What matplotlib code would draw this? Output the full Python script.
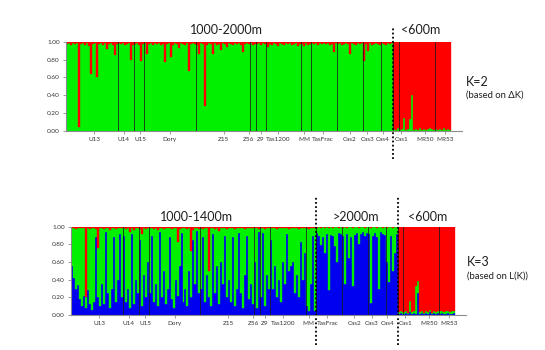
import numpy as np
import matplotlib
matplotlib.use('Agg')
import matplotlib.pyplot as plt

plt.rcParams['font.family'] = ['Lato', 'DejaVu Sans']

# populations in plotting order, and how many individuals each holds
pops = ['U13', 'U14', 'U15', 'Dory', 'Z15', 'Z56', 'Z9', 'Tas1200', 'MM',
        'TasFrac', 'Cas2', 'Cas3', 'Cas4', 'Cas1', 'MR50', 'MR53']
pop_sizes = [26, 8, 5, 26, 27, 3, 5, 18, 5, 13, 13, 9, 6, 3, 18, 8]
# where each population label sits (in individuals along the x axis)
label_pos = [14.2, 29, 37.2, 52, 79, 91.5, 97.5, 106.5, 119.3, 128.7,
             142.3, 151, 158.8, 168, 180, 190]

# K=2 : green membership (%) per individual, red is the rest
k2_green = [
    98, 99, 97, 99, 98, 99, 4, 98, 99, 97, 99, 95, 64, 98, 99, 60, 98, 99, 97, 99, 92, 98, 99, 97, 85, 98,
    99, 98, 99, 97, 98, 99, 80, 97,
    98, 99, 97, 78, 98,
    99, 86, 98, 99, 97, 99, 98, 99, 97, 98, 77, 98, 99, 83, 97, 99, 98, 93, 99, 98, 97, 99, 67, 98, 99, 98,
    97, 86, 99, 98, 28, 97, 99, 98, 86, 99, 97, 98, 91, 99, 98, 94, 99, 98, 97, 99, 98, 99, 97, 89, 98, 99, 98,
    99, 97, 98,
    98, 99, 97, 99, 98,
    99, 94, 98, 97, 99, 98, 96, 99, 98, 97, 99, 98, 99, 97, 98, 99, 96, 98,
    98, 96, 99, 97, 98,
    99, 98, 99, 97, 99, 98, 99, 98, 99, 97, 98, 89, 99,
    98, 99, 97, 98, 99, 98, 87, 99, 98, 97, 99, 98, 99,
    78, 98, 90, 99, 97, 98, 99, 98, 97,
    99, 98, 97, 99, 98, 99,
    2, 1, 3,
    1, 2, 14, 1, 2, 13, 40, 1, 2, 1, 3, 1, 2, 1, 2, 3, 2, 1,
    2, 1, 2, 1, 3, 1, 2, 1,
]

# K=3 : blue and red membership (%) per individual, green is the rest
k3_blue = [
    55, 42, 30, 34, 18, 10, 22, 8, 28, 12, 6, 15, 88, 20, 10, 35, 12, 94, 25, 8, 30, 88, 15, 40, 92, 20,
    90, 15, 30, 8, 92, 12, 40, 25,
    85, 10, 45, 20, 60,
    25, 90, 15, 35, 10, 94, 20, 50, 12, 30, 88, 18, 8, 40, 22, 55, 93, 15, 30, 10, 50, 20, 85, 35, 95, 25,
    30, 88, 15, 45, 20, 10, 92, 25, 55, 12, 60, 35, 90, 20, 40, 15, 88, 10, 30, 93, 25, 8, 45, 90, 18, 35, 12,
    60, 8, 94,
    20, 93, 10, 45, 30,
    85, 30, 55, 20, 40, 15, 60, 35, 92, 50, 56, 60, 25, 45, 20, 83, 40, 70,
    10, 5, 35, 90, 4,
    93, 90, 79, 88, 70, 92, 28, 91, 89, 78, 60, 93, 92,
    90, 35, 92, 64, 88, 33, 91, 93, 80, 92, 94, 90, 93,
    92, 14, 90, 93, 88, 30, 94, 92, 91,
    60, 37, 90, 50, 70, 92,
    1, 2, 1,
    1, 2, 1, 3, 1, 2, 1, 25, 1, 2, 1, 2, 1, 3, 1, 2, 1, 2,
    1, 2, 1, 1, 2, 1, 1, 2,
]
k3_red = [
    2, 1, 3, 2, 1, 2, 1, 80, 2, 3, 1, 2, 3, 24, 2, 1, 3, 2, 1, 4, 2, 1, 3, 2, 1, 2,
    2, 3, 1, 6, 2, 4, 2, 1,
    3, 8, 2, 3, 2,
    2, 1, 3, 2, 4, 1, 2, 3, 1, 2, 2, 3, 1, 2, 17, 3, 1, 2, 2, 3, 1, 27, 4, 2, 1, 3,
    2, 3, 1, 2, 50, 2, 1, 3, 2, 5, 1, 2, 1, 3, 2, 1, 2, 3, 1, 2, 2, 1, 3, 2, 1, 2, 1,
    2, 1, 3,
    1, 2, 3, 1, 2,
    2, 1, 2, 3, 1, 2, 1, 2, 1, 3, 2, 1, 2, 1, 3, 2, 1, 2,
    2, 3, 1, 2, 1,
    1, 0, 1, 0, 1, 0, 1, 0, 1, 0, 0, 1, 0,
    1, 0, 1, 0, 0, 1, 0, 0, 1, 0, 0, 1, 0,
    0, 1, 0, 0, 1, 0, 0, 1, 0,
    1, 0, 0, 1, 0, 0,
    97, 96, 97,
    97, 96, 98, 84, 97, 95, 67, 62, 97, 96, 98, 95, 97, 94, 98, 96, 97, 95,
    96, 95, 97, 96, 95, 97, 96, 95,
]

GREEN = '#00f000'
RED = '#ff0000'
BLUE = '#0000f0'
AXCOL = '#8c8c8c'
TXT = '#1e1e1e'

n = len(k2_green)
x = np.arange(n) + 0.5
bounds = np.cumsum(pop_sizes)


def style_axis(ax):
    ax.set_xlim(0, n + 5.3)
    ax.set_ylim(0, 1)
    for s in ['top', 'right']:
        ax.spines[s].set_visible(False)
    for s in ['left', 'bottom']:
        ax.spines[s].set_color(AXCOL)
        ax.spines[s].set_linewidth(0.8)
    ax.set_yticks([0, 0.2, 0.4, 0.6, 0.8, 1.0])
    ax.set_yticklabels(['0.00', '0.20', '0.40', '0.60', '0.80', '1.00'])
    ax.set_xticks(label_pos)
    ax.set_xticklabels(pops)
    ax.tick_params(axis='both', colors=AXCOL, labelcolor='#333333',
                   labelsize=4.6, length=2.5, width=0.6, pad=2)
    # population separators
    for b in bounds[:-1]:
        ax.plot([b, b], [0, 1], color='#1a1a1a', lw=0.7, alpha=0.8)


fig = plt.figure(figsize=(5.45, 3.5), dpi=100)

# ---- K=2 panel
ax1 = fig.add_axes([0.1211, 0.6271, 0.7259, 0.2529])
g2 = np.array(k2_green) / 100.0
ax1.bar(x, g2, width=1.0, color=GREEN, lw=0.25, edgecolor=GREEN)
ax1.bar(x, 1 - g2, bottom=g2, width=1.0, color=RED, lw=0.25, edgecolor=RED)
style_axis(ax1)
cut = bounds[pops.index('Cas4')]
ax1.axvline(cut, ymin=-0.32, ymax=1.16, color='k', lw=1.3,
            linestyle=(0, (1, 1.3)), clip_on=False)

fig.text(226 / 545, 1 - 29.5 / 350, '1000-2000m', fontsize=9,
         ha='center', va='center', color=TXT)
fig.text(420.6 / 545, 1 - 29.5 / 350, '<600m', fontsize=9,
         ha='center', va='center', color=TXT)
fig.text(466 / 545, 1 - 82 / 350, 'K=2', fontsize=9,
         ha='left', va='center', color=TXT)
fig.text(466 / 545, 1 - 95.5 / 350, '(based on ΔK)', fontsize=6.8,
         ha='left', va='center', color=TXT)

# ---- K=3 panel
ax2 = fig.add_axes([0.1303, 0.1, 0.7244, 0.2523])
b3 = np.array(k3_blue) / 100.0
r3 = np.array(k3_red) / 100.0
g3 = 1 - b3 - r3
ax2.bar(x, b3, width=1.0, color=BLUE, lw=0.25, edgecolor=BLUE)
ax2.bar(x, g3, bottom=b3, width=1.0, color=GREEN, lw=0.25, edgecolor=GREEN)
ax2.bar(x, r3, bottom=b3 + g3, width=1.0, color=RED, lw=0.25, edgecolor=RED)
style_axis(ax2)
for p in ['MM', 'Cas4']:
    c = bounds[pops.index(p)]
    ax2.axvline(c, ymin=-0.34, ymax=1.35, color='k', lw=1.3,
                linestyle=(0, (1, 1.3)), clip_on=False)

fig.text(196.4 / 545, 1 - 216.7 / 350, '1000-1400m', fontsize=9,
         ha='center', va='center', color=TXT)
fig.text(356 / 545, 1 - 216.7 / 350, '>2000m', fontsize=9,
         ha='center', va='center', color=TXT)
fig.text(427.5 / 545, 1 - 216.7 / 350, '<600m', fontsize=9,
         ha='center', va='center', color=TXT)
fig.text(467 / 545, 1 - 262.3 / 350, 'K=3', fontsize=9,
         ha='left', va='center', color=TXT)
fig.text(467 / 545, 1 - 275.7 / 350, '(based on L(K))', fontsize=6.8,
         ha='left', va='center', color=TXT)

fig.savefig('out.png', dpi=100)
